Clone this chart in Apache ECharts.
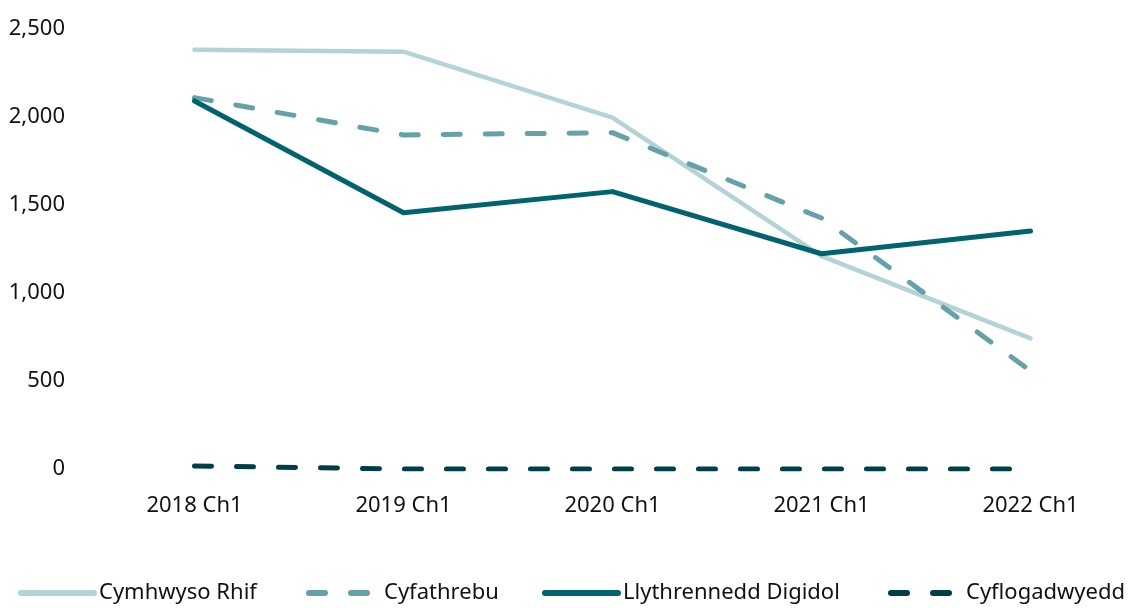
<!DOCTYPE html>
<html>
<head>
<meta charset="utf-8">
<script src="https://cdn.jsdelivr.net/npm/echarts@6/dist/echarts.min.js"></script>
<style>
html,body{margin:0;padding:0;background:#fff;}
#chart{width:1135px;height:608px;}
</style>
</head>
<body>
<div id="chart"></div>
<script>
const categories = ['2018 Ch1', '2019 Ch1', '2020 Ch1', '2021 Ch1', '2022 Ch1'];
const seriesNames = ['Cymhwyso Rhif', 'Cyfathrebu', 'Llythrennedd Digidol', 'Cyflogadwyedd'];
const cymhwysoRhif = [2382, 2371, 1996, 1210, 742];
const cyfathrebu = [2110, 1898, 1911, 1426, 557];
const llythrenneddDigidol = [2091, 1456, 1576, 1223, 1352];
const cyflogadwyedd = [17, 0, 0, 0, 0];
const yTicks = [0, 500, 1000, 1500, 2000, 2500];

const FONT = '"Noto Sans", "Open Sans", sans-serif';
const colors = ['#b3d3d7', '#65a1a9', '#00636f', '#003f48'];
const dashed = [false, true, false, true];
const values = [cymhwysoRhif, cyfathrebu, llythrenneddDigidol, cyflogadwyedd];
const legendLeft = [18, 303, 542, 885];

const chart = echarts.init(document.getElementById('chart'), null, {renderer: 'canvas'});
chart.setOption({
  animation: false,
  textStyle: {fontFamily: FONT},
  grid: {left: 90, right: 0, top: 29, bottom: 139, containLabel: false},
  legend: seriesNames.map((n, i) => ({
    data: [n],
    left: legendLeft[i],
    top: 582,
    padding: 0,
    itemWidth: 73,
    itemHeight: 10,
    itemGap: 4,
    itemStyle: {opacity: 0},
    lineStyle: {
      width: 6,
      cap: 'round',
      type: dashed[i] ? [16, 26] : 'solid',
      dashOffset: dashed[i] ? -3 : 0
    },
    textStyle: {fontFamily: FONT, fontSize: 22, color: '#111'},
    selectedMode: false
  })),
  xAxis: {
    type: 'category',
    data: categories,
    boundaryGap: true,
    axisLine: {show: false},
    axisTick: {show: false},
    axisLabel: {fontFamily: FONT, fontSize: 22, color: '#111', margin: 26}
  },
  yAxis: {
    type: 'value',
    min: 0, max: 2500, interval: 500,
    splitLine: {show: false},
    axisLine: {show: false},
    axisTick: {show: false},
    axisLabel: {
      fontFamily: FONT, fontSize: 22, color: '#111', margin: 25,
      formatter: v => yTicks.includes(v) ? v.toLocaleString('en-US') : ''
    }
  },
  series: seriesNames.map((n, i) => ({
    name: n,
    type: 'line',
    data: values[i],
    symbol: 'none',
    color: colors[i],
    lineStyle: {
      color: colors[i],
      width: i === 0 ? 4.5 : 5,
      type: dashed[i] ? [17, 25] : 'solid',
      cap: 'round',
      join: 'round'
    },
    z: [1, 2, 3, 4][i]
  }))
});
</script>
</body>
</html>
